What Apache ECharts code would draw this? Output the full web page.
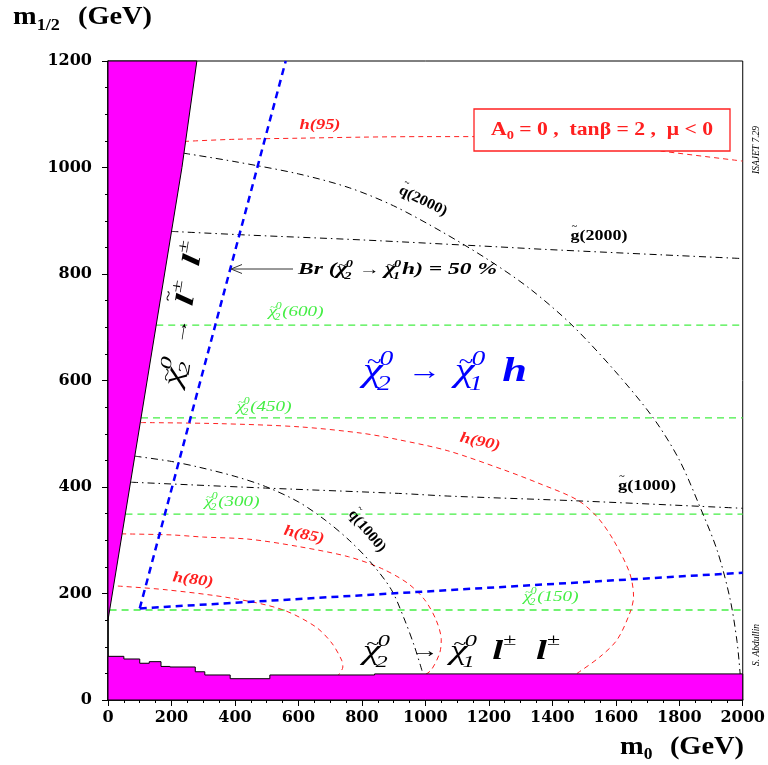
<!DOCTYPE html>
<html><head><meta charset="utf-8">
<script src="https://cdn.jsdelivr.net/npm/echarts@6/dist/echarts.min.js"></script>
<style>html,body{margin:0;padding:0;background:#fff}#c{width:768px;height:765px}</style>
</head><body><div id="c"></div>
<script>
// ---------------- data (m0, m1/2 in GeV) ----------------
const wallX = [0, 233, 280, 0];
const wallY = [150, 1000, 1200, 1200];
const floorEdges = [0, 50, 100, 130, 167, 195, 275, 305, 385, 510, 840, 2000];
const floorLevels = [82, 77, 69, 72, 63, 62, 53, 47, 40, 47, 49];

const br1X = [100, 560], br1Y = [172, 1200];
const br2X = [100, 2000], br2Y = [172, 239];

const chi600X = [152, 2000], chi600Y = [704, 704];
const chi450X = [104, 2000], chi450Y = [530, 530];
const chi300X = [55, 2000], chi300Y = [349, 349];
const chi150X = [5, 2000], chi150Y = [169, 169];

const h95X = [240, 400, 600, 800, 1000, 1150, 1300, 1450, 1600, 1754, 2000];
const h95Y = [1049, 1053, 1055, 1057, 1058, 1058, 1055, 1050, 1042, 1030, 1012];
const h90X = [104, 350, 602, 800, 914, 1071, 1248, 1353, 1478, 1541, 1593, 1644, 1656, 1644, 1604, 1550, 1478];
const h90Y = [521, 519, 513, 501, 489, 468, 432, 408, 376, 344, 300, 238, 194, 163, 113, 81, 50];
const h85X = [42, 200, 300, 444, 602, 758, 862, 945, 998, 1034, 1050, 1045, 1018, 992];
const h85Y = [312, 310, 306, 302, 288, 269, 247, 219, 188, 150, 113, 88, 56, 45];
const h80X = [31, 183, 392, 548, 653, 705, 736, 740, 726];
const h80Y = [214, 207, 191, 170, 138, 107, 75, 62, 47];

const q2000X = [237, 400, 600, 760, 900, 1050, 1200, 1330, 1462, 1600, 1719, 1800, 1865, 1920, 1960, 1982, 1992];
const q2000Y = [1027, 1011, 988, 962, 928, 880, 826, 772, 704, 616, 529, 451, 363, 280, 190, 110, 48];
const q1000X = [84, 200, 288, 400, 496, 600, 684, 760, 830, 893, 935, 966, 992];
const q1000Y = [458, 448, 437, 420, 401, 372, 338, 300, 257, 207, 150, 100, 50];
const g2000X = [200, 445, 800, 1228, 1384, 2000];
const g2000Y = [880, 873, 864, 851, 846, 829];
const g1000X = [73, 496, 915, 1071, 1478, 2000];
const g1000Y = [409, 398, 388, 383, 374, 360];

// ---------------- chart ----------------
const chart = echarts.init(document.getElementById('c'), null, {renderer: 'canvas'});
const zip = (xs, ys) => xs.map((x, i) => [x, ys[i]]);
const series = [];
function line(xs, ys, color, dash, width, smooth) {
  series.push({type: 'line', data: zip(xs, ys), smooth: smooth ? 0.3 : false, symbol: 'none',
    showSymbol: false, silent: true, z: 2, lineStyle: {color, width, type: dash}});
}
const RED = '#ff2020', GRN = '#44ee44', BLU = '#0000ff', BLK = '#000';
const dDash = [5, 4], gDash = [7, 5], bDash = [7, 5], dDot = [7, 4, 1.5, 4];
line(chi600X, chi600Y, GRN, gDash, 1.3, false);
line(chi450X, chi450Y, GRN, gDash, 1.3, false);
line(chi300X, chi300Y, GRN, gDash, 1.3, false);
line(chi150X, chi150Y, GRN, gDash, 1.3, false);
line(h95X, h95Y, RED, dDash, 1, true);
line(h90X, h90Y, RED, dDash, 1, true);
line(h85X, h85Y, RED, dDash, 1, true);
line(h80X, h80Y, RED, dDash, 1, true);
line(q2000X, q2000Y, BLK, dDot, 1, true);
line(q1000X, q1000Y, BLK, dDot, 1, true);
line(g2000X, g2000Y, BLK, dDot, 1, true);
line(g1000X, g1000Y, BLK, dDot, 1, true);
line(br1X, br1Y, BLU, bDash, 2.5, false);
line(br2X, br2Y, BLU, bDash, 2.5, false);

series.push({type: 'custom', data: [[0, 0]], silent: true, z: 5, renderItem: (p, api) => {
  const pts = wallX.map((x, i) => api.coord([x, wallY[i]]));
  return {type: 'polygon', shape: {points: pts}, style: {fill: '#ff00ff', stroke: '#000', lineWidth: 1}};
}});
series.push({type: 'custom', data: [[0, 0]], silent: true, z: 5, renderItem: (p, api) => {
  const pts = [api.coord([0, 0])];
  for (let i = 0; i < floorLevels.length; i++) {
    pts.push(api.coord([floorEdges[i], floorLevels[i]]));
    pts.push(api.coord([floorEdges[i + 1], floorLevels[i]]));
  }
  pts.push(api.coord([2000, 0]));
  return {type: 'polygon', shape: {points: pts}, style: {fill: '#ff00ff', stroke: '#000', lineWidth: 1}};
}});

const tickFont = {fontFamily: '"DejaVu Serif"', fontWeight: 'bold', fontSize: 16, color: '#000', formatter: v => String(v)};
chart.setOption({
  animation: false,
  grid: {left: 108, right: 21, top: 61, bottom: 65, show: true, borderColor: '#000', borderWidth: 1, backgroundColor: 'transparent'},
  xAxis: {type: 'value', min: 0, max: 2000, interval: 200,
    axisLine: {show: true, onZero: false, lineStyle: {color: '#000', width: 1.5}},
    axisTick: {show: true, inside: false, length: 6, lineStyle: {color: '#000'}},
    minorTick: {show: true, splitNumber: 4, length: 3, lineStyle: {color: '#000'}},
    splitLine: {show: false}, axisLabel: Object.assign({margin: 10}, tickFont)},
  yAxis: {type: 'value', min: 0, max: 1200, interval: 200,
    axisLine: {show: true, onZero: false, lineStyle: {color: '#000', width: 1.5}},
    axisTick: {show: true, inside: false, length: 6, lineStyle: {color: '#000'}},
    minorTick: {show: true, splitNumber: 4, length: 3, lineStyle: {color: '#000'}},
    splitLine: {show: false}, axisLabel: Object.assign({margin: 16}, tickFont)},
  series
});

// ---------------- annotation text ----------------
const cv = document.createElement('canvas').getContext('2d');
function mw(t, f) { cv.font = f; return cv.measureText(t).width; }
const SER = '"Liberation Serif"';
function F(size, style, weight) { return (style || 'normal') + ' ' + (weight || 'normal') + ' ' + size.toFixed(1) + 'px ' + SER; }
function T(text, x, y, font, fill) {
  return {type: 'text', x, y, z: 20, silent: true, style: {text, font, fill, textAlign: 'left', textVerticalAlign: 'middle'}};
}
function build(parts) {
  let x = 0; const kids = [];
  for (const p of parts) {
    if (p.gap !== undefined) { x += p.gap; continue; }
    if (p.chi) {
      const fs = p.fs, f = F(fs, 'italic', p.wt), w = mw('χ', f);
      kids.push(T('χ', x, 0, f, p.c));
      kids.push(T('~', x + w * 0.2, -fs * 0.27, F(fs * 0.6, 'normal', p.wt), p.c));
      const f2 = F(fs * 0.62, 'italic', p.wt);
      kids.push(T('0', x + w * 0.85, -fs * 0.36, f2, p.c));
      kids.push(T(p.chi, x + w * 0.72, fs * 0.36, f2, p.c));
      x += w * 0.72 + Math.max(mw('0', f2) + w * 0.13, mw(p.chi, f2)) + fs * 0.03;
      continue;
    }
    const f = p.f;
    kids.push(T(p.t, x, p.dy || 0, f, p.c));
    if (p.tilde) kids.push(T('~', x + mw(p.t, f) * 0.15, p.tdy, F(p.size * 0.55, 'normal', 'bold'), p.c));
    x += mw(p.t, f);
  }
  return {kids, w: x};
}
function label(parts, cx, cy, opt) {
  opt = opt || {};
  const b = build(parts);
  const sx = opt.w ? opt.w / b.w : 1;
  const off = opt.anchor === 'left' ? 0 : -b.w / 2;
  b.kids.forEach(k => { k.x += off; });
  return {type: 'group', x: cx, y: cy, z: 20, rotation: (opt.rot || 0) * Math.PI / 180, scaleX: sx, scaleY: opt.sy || 1, children: b.kids};
}
const t = (txt, f, c, extra) => Object.assign({t: txt, f, c}, extra || {});
const G = [];

// axis titles
G.push(label([t('m', F(25, 'normal', 'bold'), BLK), t('1/2', F(16, 'normal', 'bold'), BLK, {dy: 8}), {gap: 16},
  t('(GeV)', F(25, 'normal', 'bold'), BLK)], 13, 18, {anchor: 'left', w: 139}));
G.push(label([t('m', F(26, 'normal', 'bold'), BLK), t('0', F(16, 'normal', 'bold'), BLK, {dy: 8}), {gap: 16},
  t('(GeV)', F(26, 'normal', 'bold'), BLK)], 620, 747, {anchor: 'left', w: 124}));

// parameter box
G.push({type: 'rect', z: 15, shape: {x: 474, y: 109, width: 256, height: 42}, style: {fill: '#fff', stroke: RED, lineWidth: 1.3}});
const bf = F(18, 'normal', 'bold');
G.push(label([t('A', bf, RED), t('0', F(12, 'normal', 'bold'), RED, {dy: 6}), t(' = 0 ,  tanβ = 2 ,  μ < 0', bf, RED)],
  491, 130, {anchor: 'left', w: 222}));

// h labels
const hf = F(15, 'italic', 'bold');
G.push(label([t('h(95)', hf, RED)], 320, 125, {w: 41}));
G.push(label([t('h(90)', hf, RED)], 480, 442, {w: 41, rot: -12}));
G.push(label([t('h(85)', hf, RED)], 304, 535, {w: 41, rot: -12}));
G.push(label([t('h(80)', hf, RED)], 193, 580, {w: 41, rot: -7}));

// chi2 mass labels
const gf = F(15, 'italic', 'normal');
[['(600)', 296, 312], ['(450)', 264, 407], ['(300)', 232, 502], ['(150)', 551, 597]].forEach(([s, x, y]) => {
  G.push(label([{chi: '2', fs: 15, c: GRN}, t(s, gf, GRN)], x, y, {w: 55}));
});

// squark / gluino labels
const kf = F(15, 'normal', 'bold');
G.push(label([t('g', kf, BLK, {tilde: true, size: 15, tdy: -9}), t('(2000)', kf, BLK)], 599, 236, {w: 57}));
G.push(label([t('g', kf, BLK, {tilde: true, size: 15, tdy: -9}), t('(1000)', kf, BLK)], 647, 486, {w: 58}));
G.push(label([t('q', kf, BLK, {tilde: true, size: 15, tdy: -9}), t('(2000)', kf, BLK)], 423, 201, {w: 52, rot: -26}));
G.push(label([t('q', kf, BLK, {tilde: true, size: 15, tdy: -9}), t('(1000)', kf, BLK)], 367, 531, {w: 50, rot: -50}));

// Br = 50% label with arrow
const brf = F(17, 'italic', 'bold');
G.push(label([t('Br (', brf, BLK), {chi: '2', fs: 17, c: BLK, wt: 'bold'}, t(' → ', F(15, 'normal', 'bold'), BLK),
  {chi: '1', fs: 17, c: BLK, wt: 'bold'}, t('h) = 50 %', brf, BLK)], 298, 270, {anchor: 'left', w: 199}));
G.push({type: 'polyline', z: 20, shape: {points: [[293, 269], [231, 269]]}, style: {stroke: '#333', lineWidth: 1}});
G.push({type: 'polyline', z: 20, shape: {points: [[242, 264.5], [231, 269], [242, 273.5]]}, style: {stroke: '#333', lineWidth: 1, fill: null}});

// big blue label
G.push(label([{chi: '2', fs: 34, c: BLU}, {gap: 10}, t('→', F(26, 'normal', 'normal'), BLU), {gap: 10},
  {chi: '1', fs: 34, c: BLU}, {gap: 12}, t('h', F(34, 'italic', 'bold'), BLU)], 363, 372, {anchor: 'left', w: 164}));

// bottom black label
const lf = F(28, 'italic', 'bold');
const pm = F(17, 'normal', 'normal');
G.push(label([{chi: '2', fs: 28, c: BLK}, {gap: 14}, t('→', F(20, 'normal', 'normal'), BLK), {gap: 8},
  {chi: '1', fs: 28, c: BLK}, {gap: 10}, t('l', lf, BLK), t('±', pm, BLK, {dy: -11}), {gap: 14},
  t('l', lf, BLK), t('±', pm, BLK, {dy: -11})], 363, 652, {anchor: 'left', w: 197}));

// rotated label along left blue line
G.push(label([{chi: '2', fs: 26, c: BLK}, {gap: 8}, t('→', F(17, 'normal', 'normal'), BLK), {gap: 8},
  t('l', F(26, 'italic', 'bold'), BLK, {tilde: true, size: 22, tdy: -18}), t('±', F(15, 'normal', 'normal'), BLK, {dy: -11}), {gap: 10},
  t('l', F(26, 'italic', 'bold'), BLK), t('±', F(15, 'normal', 'normal'), BLK, {dy: -11})], 173, 386, {anchor: 'left', w: 146, rot: 81}));

// side credits
G.push({type: 'text', x: 756, y: 150, rotation: Math.PI / 2, silent: true, z: 20,
  style: {text: 'ISAJET 7.29', font: F(9.5, 'italic', 'normal'), fill: '#000', textAlign: 'center', textVerticalAlign: 'middle'}});
G.push({type: 'text', x: 756, y: 645, rotation: Math.PI / 2, silent: true, z: 20,
  style: {text: 'S. Abdullin', font: F(9.5, 'italic', 'normal'), fill: '#000', textAlign: 'center', textVerticalAlign: 'middle'}});

chart.setOption({graphic: {elements: G}});
</script></body></html>
